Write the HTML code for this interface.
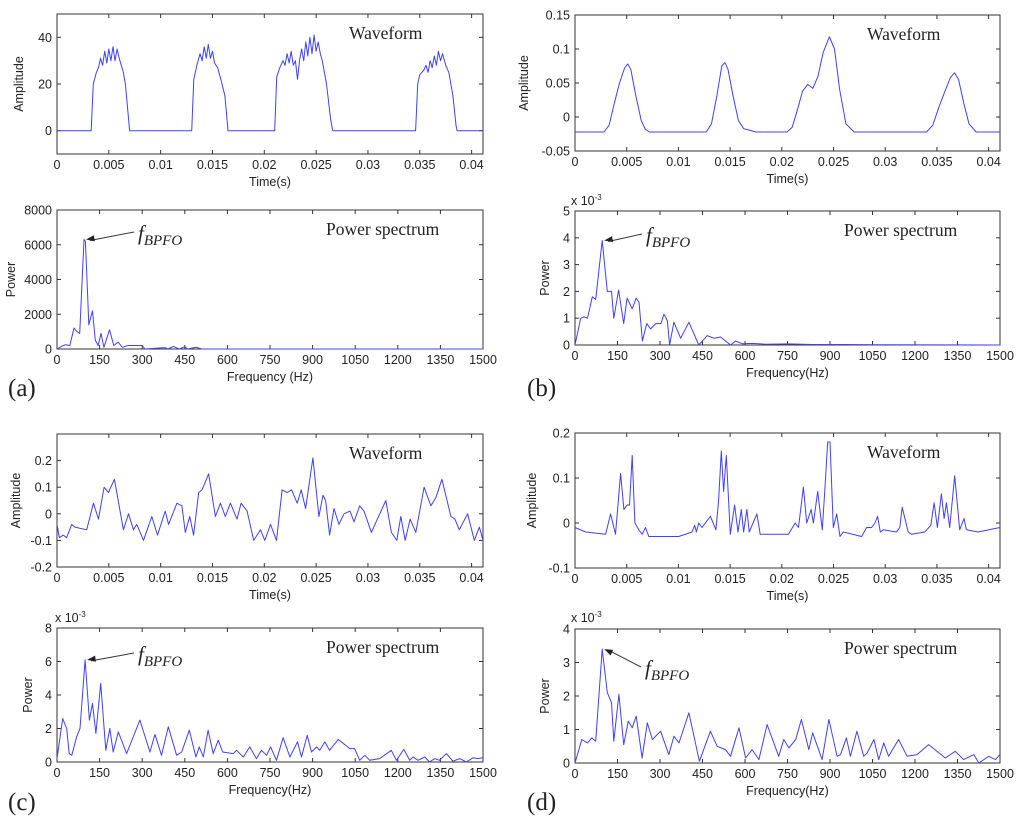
<!DOCTYPE html>
<html><head><meta charset="utf-8"><style>
body{margin:0;background:#fff;width:1024px;height:827px;overflow:hidden}
svg{display:block}
.tk{font-family:"Liberation Sans",Arial,sans-serif;font-size:12.5px;fill:#222}
.ser{font-family:"Liberation Serif","Times New Roman",serif;fill:#222}
</style></head><body>
<svg id="fig" width="1024" height="827" viewBox="0 0 1024 827" xmlns="http://www.w3.org/2000/svg"></svg>
<script>
// ---- data (time in ms, frequency in Hz) ----
const waveTicks=[0,5,10,15,20,25,30,35,40];
const waveTickLabels=["0","0.005","0.01","0.015","0.02","0.025","0.03","0.035","0.04"];
const freqTicks=[0,150,300,450,600,750,900,1050,1200,1350,1500];
const freqTickLabels=["0","150","300","450","600","750","900","1050","1200","1350","1500"];

const aWaveT=[0,3.3,3.4,3.5,3.8,4,4.2,4.4,4.6,4.8,5,5.2,5.4,5.6,5.8,6,6.2,6.4,6.6,6.8,7,13,13.2,13.5,13.8,14,14.2,14.4,14.6,14.8,15,15.2,15.5,15.8,16.2,16.4,16.5,21,21.2,21.5,21.8,22,22.2,22.4,22.6,22.8,23,23.2,23.4,23.6,23.8,24,24.2,24.4,24.6,24.8,25,25.2,25.4,25.6,26,26.4,26.6,34.6,34.8,35,35.4,35.6,35.8,36,36.2,36.4,36.6,36.8,37,37.2,37.5,37.8,38.2,38.5,38.6,41.1];
const aWaveV=[0,0,10,20,25,27,31,28,34,29,35,30,36,30,35,31,28,25,20,10,0,0,22,28,33,30,36,31,37,31,34,29,27,22,15,5,0,0,23,27,30,28,33,29,34,28,30,22,30,35,30,38,32,40,33,41,34,38,33,30,20,5,0,0,20,24,26,28,25,30,27,32,28,34,30,33,28,25,15,2,0,0];
const aWaveYTicks=[0,20,40];
const aWaveYLabels=["0","20","40"];

const aSpecF=[0,15,30,45,60,70,80,95,100,108,112,125,135,145,155,165,185,200,215,230,250,300,310,380,390,410,430,450,460,490,510,1500];
const aSpecV=[0,150,250,200,1200,1000,900,6300,6200,3000,1400,2200,500,200,900,100,1100,200,400,100,200,200,0,80,0,150,0,130,0,100,0,0];
const aSpecYTicks=[0,2000,4000,6000,8000];
const aSpecYLabels=["0","2000","4000","6000","8000"];

const bWaveT=[0,2.8,3.3,3.8,4.3,4.8,5.1,5.4,5.9,6.4,6.8,7.2,12.7,13.2,13.7,14.2,14.5,14.8,15.3,15.8,16.3,17.5,20.5,21.0,21.5,22.0,22.5,23.0,23.5,24.0,24.6,25.1,25.6,26.2,27.0,34.0,34.6,35.2,35.7,36.3,36.7,37.1,37.6,38.1,38.8,41.1];
const bWaveV=[-0.022,-0.022,-0.012,0.02,0.05,0.072,0.078,0.07,0.03,-0.005,-0.018,-0.022,-0.022,-0.01,0.03,0.075,0.08,0.07,0.03,-0.005,-0.017,-0.022,-0.022,-0.015,0.01,0.038,0.048,0.042,0.06,0.095,0.118,0.1,0.04,-0.01,-0.022,-0.022,-0.012,0.015,0.035,0.058,0.065,0.055,0.02,-0.01,-0.022,-0.022];
const bWaveYTicks=[-0.05,0,0.05,0.1,0.15];
const bWaveYLabels=["-0.05","0","0.05","0.1","0.15"];

const bSpecF=[0,20,32,44,61,73,96,114,129,137,154,172,184,202,216,226,238,253,267,285,303,314,326,334,349,373,402,437,467,491,514,549,567,590,625,672,754,836,954,1072,1500];
const bSpecV=[0,1.0,1.05,1.0,1.8,1.7,3.9,2.0,2.0,1.0,2.05,0.8,1.75,1.35,1.75,1.6,0.15,0.8,0.6,0.8,0.8,1.15,0.9,0.0,0.85,0.25,0.85,0.0,0.35,0.25,0.3,0.0,0.15,0.05,0.06,0.03,0.04,0.02,0.02,0.01,0];
const bSpecYTicks=[0,1,2,3,4,5];
const bSpecYLabels=["0","1","2","3","4","5"];

const cWaveT=[0,0.23,0.61,0.93,1.42,1.74,2.87,3.51,4.0,4.54,4.96,5.54,6.41,6.9,7.38,7.7,8.35,9.15,9.7,10.44,10.77,11.57,12.05,12.38,12.8,13.18,13.67,13.99,14.63,15.28,15.76,16.24,16.73,17.37,17.76,18.34,18.98,19.31,19.63,20.05,20.6,21.18,21.72,22.21,22.63,23.17,23.56,23.98,24.69,25.27,25.66,25.91,26.3,26.72,27.2,27.69,28.27,28.65,29.2,29.62,30.33,30.91,31.72,32.26,32.78,33.17,33.59,34.07,34.62,35.42,36.07,36.55,37.13,38.0,38.39,38.81,39.61,40.26,40.75,41.1];
const cWaveV=[-0.04,-0.09,-0.08,-0.09,-0.04,-0.05,-0.06,0.04,-0.02,0.1,0.08,0.13,-0.06,0,-0.06,-0.04,-0.1,-0.01,-0.08,0.01,-0.04,0.04,0.03,-0.07,-0.01,-0.08,0.08,0.09,0.15,-0.01,0.04,-0.01,0.04,-0.02,0.04,0.01,-0.1,-0.08,-0.06,-0.1,-0.04,-0.1,0.09,0.08,0.09,0.04,0.09,0.02,0.21,-0.01,0.07,0.05,-0.08,0.02,-0.04,0,0.01,-0.03,0.03,0.01,-0.07,-0.02,0.05,-0.07,-0.1,-0.01,-0.1,-0.02,-0.07,0.1,0.03,0.06,0.13,-0.01,-0.02,-0.06,0.0,-0.1,-0.05,-0.1];
const cWaveYTicks=[-0.2,-0.1,0,0.1,0.2];
const cWaveYLabels=["-0.2","-0.1","0","0.1","0.2"];

const cSpecF=[0,20,34,43,52,69,81,99,114,125,137,154,172,186,198,216,245,292,327,345,368,392,421,439,466,489,501,515,532,550,568,583,620,632,656,679,702,720,738,752,773,796,820,847,861,881,896,914,925,943,960,990,1031,1048,1066,1084,1101,1136,1177,1195,1221,1242,1254,1271,1295,1312,1330,1347,1371,1394,1418,1441,1465,1482,1500];
const cSpecV=[0.2,2.6,2.0,0.5,0.4,1.5,2.0,6.1,2.5,3.5,1.7,4.7,0.7,2.0,0.6,1.8,0.5,2.5,0.6,1.65,0.4,2.1,0.4,0.6,1.9,0.3,0.9,0.3,1.9,0.5,1.3,0.6,0.5,0.7,0.3,0.9,0.2,0.7,0.4,0.9,0.1,1.45,0.3,1.2,0.3,1.6,0.6,0.9,0.7,1.2,0.7,1.35,0.8,0.8,0.1,0.4,0.1,0.2,0.7,0.1,0.75,0.1,0.3,0.1,0.3,0.0,0.2,0.1,0.5,0.05,0.2,0.0,0.25,0.2,0.25];
const cSpecYTicks=[0,2,4,6,8];
const cSpecYLabels=["0","2","4","6","8"];

const dWaveT=[0,1.03,2.96,3.44,3.92,4.41,4.73,5.05,5.27,5.53,5.79,6.17,6.5,6.82,7.14,10.03,11.32,11.58,11.74,11.96,12.28,13.09,13.63,13.89,14.15,14.37,14.63,15.02,15.43,15.76,16.08,16.3,16.62,16.85,17.59,17.91,20.64,21.29,21.61,22.09,22.41,22.83,23.05,23.47,23.92,24.18,24.44,24.66,24.98,25.31,25.63,25.95,27.72,28.2,28.68,29.0,29.26,29.52,29.81,31.09,31.41,31.64,31.9,32.22,32.54,33.83,34.41,34.73,35.05,35.43,35.69,35.92,36.24,36.72,37.2,37.62,37.85,38.97,41.1];
const dWaveV=[-0.01,-0.02,-0.025,0.02,-0.025,0.11,0.03,0.04,0.04,0.15,0.0,-0.015,-0.025,-0.01,-0.03,-0.03,-0.02,-0.005,-0.02,0,-0.01,0.015,-0.015,0.05,0.16,0.07,0.15,-0.025,0.04,-0.02,0.03,-0.02,0.03,-0.02,0.02,-0.025,-0.025,0.0,-0.01,0.08,0.0,0.03,0.0,0.07,-0.015,0.08,0.18,0.18,-0.01,0.02,-0.03,-0.02,-0.03,-0.01,-0.01,0.0,0.015,-0.02,-0.015,-0.02,-0.01,0.035,0.01,-0.02,-0.025,-0.02,-0.005,0.045,-0.01,0.065,0.01,0.045,-0.01,0.105,-0.015,0.01,-0.015,-0.02,-0.01];
const dWaveYTicks=[-0.1,0,0.1,0.2];
const dWaveYLabels=["-0.1","0","0.1","0.2"];

const dSpecF=[0,24,44,59,73,96,114,129,137,155,172,188,202,216,237,255,273,302,331,349,367,402,439,478,502,531,549,579,602,625,649,678,719,737,755,779,799,825,839,872,896,925,937,958,972,995,1019,1031,1055,1072,1090,1107,1142,1172,1207,1248,1307,1342,1372,1408,1425,1460,1484,1500];
const dSpecV=[0,0.7,0.6,0.75,0.65,3.4,2.1,1.8,0.65,2.05,0.55,1.25,1.05,1.4,0.15,1.2,0.7,0.95,0.25,0.8,0.6,1.5,0.05,0.95,0.5,0.4,0.2,1.05,0.15,0.4,0.1,1.15,0.2,0.7,0.45,0.7,1.3,0.4,0.9,0.1,1.3,0.2,0.25,0.75,0.2,0.95,0.2,0.3,0.7,0.1,0.6,0.2,0.7,0.2,0.25,0.55,0.15,0.35,0.1,0.25,0.0,0.2,0.1,0.25];
const dSpecYTicks=[0,1,2,3,4];
const dSpecYLabels=["0","1","2","3","4"];

// ---- drawing ----
const NS="http://www.w3.org/2000/svg";
const fig=document.getElementById('fig');
function mk(tag,attrs,parent){const e=document.createElementNS(NS,tag);for(const k in attrs)e.setAttribute(k,attrs[k]);(parent||fig).appendChild(e);return e;}

function panel(id,L,R,T,B,xmin,xmax,ymin,ymax,xs,ys,xt,xtl,yt,ytl,xlabel,kind,yoff){
  const g=mk('g',{});
  
  
  const X=v=>L+(v-xmin)/(xmax-xmin)*(R-L);
  const Y=v=>B-(v-ymin)/(ymax-ymin)*(B-T);
  const box=mk('rect',{x:L,y:T,width:R-L,height:B-T,fill:'none',stroke:'#333','stroke-width':1},g);
  
  
  xt.forEach((v,i)=>{
    const x=X(v);
    mk('line',{x1:x,y1:B,x2:x,y2:B-4,stroke:'#333'},g);
    mk('line',{x1:x,y1:T,x2:x,y2:T+4,stroke:'#333'},g);
    const t=mk('text',{x:x,y:B+15,'text-anchor':'middle',class:'tk'},g);
    t.textContent=xtl[i];
    
    
  });
  yt.forEach((v,i)=>{
    const y=Y(v);
    mk('line',{x1:L,y1:y,x2:L+4,y2:y,stroke:'#333'},g);
    mk('line',{x1:R,y1:y,x2:R-4,y2:y,stroke:'#333'},g);
    const t=mk('text',{x:L-5,y:y+4.5,'text-anchor':'end',class:'tk'},g);
    t.textContent=ytl[i];
    
    
  });
  const pts=xs.map((v,i)=>X(v).toFixed(1)+','+Y(ys[i]).toFixed(1)).join(' ');
  const line=mk('polyline',{points:pts,fill:'none',stroke:'#4040ff','stroke-width':1,'stroke-linejoin':'round'},g);
  
  
  const xl=mk('text',{x:(L+R)/2,y:B+32,'text-anchor':'middle',class:'tk'},g);
  xl.textContent=xlabel;
  
  
  const yl=mk('text',{x:0,y:0,'text-anchor':'middle',class:'tk',transform:'translate('+(L-yoff)+','+((T+B)/2)+') rotate(-90)'},g);
  yl.textContent=kind==='w'?'Amplitude':'Power';
  
  
  const ti=mk('text',{x:L+(kind==='w'?292:269),y:T+25,class:'ser','font-size':'17.5'},g);
  ti.textContent=kind==='w'?'Waveform':'Power spectrum';
  
  
  return {X,Y,g};
}

function bpfo(p,id,fx,fy,tx,ty){
  mk('line',{x1:tx-4,y1:ty-8,x2:fx+6,y2:fy+1,stroke:'#333','stroke-width':1},p.g);
  const ang=Math.atan2(ty-8-fy,tx-4-fx);
  const ax=fx+2,ay=fy;
  const a1=[ax+9*Math.cos(ang+0.35),ay+9*Math.sin(ang+0.35)],a2=[ax+9*Math.cos(ang-0.35),ay+9*Math.sin(ang-0.35)];
  mk('polygon',{points:ax+','+ay+' '+a1.join(',')+' '+a2.join(','),fill:'#222'},p.g);
  const t=mk('text',{x:tx,y:ty,class:'ser','font-size':'21','font-style':'italic'},p.g);
  t.textContent='f';
  const s=mk('tspan',{dy:'5','font-size':'15'},t);
  s.textContent='BPFO';
  
  
}
function sci(id,x,y){
  const t=mk('text',{x:x,y:y,class:'tk','font-size':'11'});
  t.textContent='x 10';
  const s=mk('tspan',{dy:'-5','font-size':'8'},t);s.textContent='-3';
  
  
}
function plabel(txt,x,y){
  const t=mk('text',{x:x,y:y,class:'ser','font-size':'25'});
  t.textContent=txt;
  
  
}

// (a)
panel('a-wave',57,483,14,154,0,41.1,-10,50,aWaveT,aWaveV,waveTicks,waveTickLabels,aWaveYTicks,aWaveYLabels,'Time(s)','w',34);
let pa=panel('a-spec',57,483,210,349,0,1500,0,8000,aSpecF,aSpecV,freqTicks,freqTickLabels,aSpecYTicks,aSpecYLabels,'Frequency (Hz)','s',42);
bpfo(pa,'a-spec',pa.X(95),pa.Y(6300),138,240);
plabel('(a)',8,396);
// (b)
panel('b-wave',575,1000,15,151,0,41.1,-0.05,0.15,bWaveT,bWaveV,waveTicks,waveTickLabels,bWaveYTicks,bWaveYLabels,'Time(s)','w',47);
let pb=panel('b-spec',575,1000,211,345,0,1500,0,5,bSpecF,bSpecV,freqTicks,freqTickLabels,bSpecYTicks,bSpecYLabels,'Frequency(Hz)','s',26);
bpfo(pb,'b-spec',pb.X(96),pb.Y(3.9),646,242);
sci('b-spec',571,205);
plabel('(b)',527,396);
// (c)
panel('c-wave',57,483,434,567,0,41.1,-0.2,0.3,cWaveT,cWaveV,waveTicks,waveTickLabels,cWaveYTicks,cWaveYLabels,'Time(s)','w',37);
let pc=panel('c-spec',57,483,628,762,0,1500,0,8,cSpecF,cSpecV,freqTicks,freqTickLabels,cSpecYTicks,cSpecYLabels,'Frequency(Hz)','s',25);
bpfo(pc,'c-spec',pc.X(99),pc.Y(6.1),138,661);
sci('c-spec',55,622);
plabel('(c)',8,810);
// (d)
panel('d-wave',575,1000,433,568,0,41.1,-0.1,0.2,dWaveT,dWaveV,waveTicks,waveTickLabels,dWaveYTicks,dWaveYLabels,'Time(s)','w',39);
let pd=panel('d-spec',575,1000,629,763,0,1500,0,4,dSpecF,dSpecV,freqTicks,freqTickLabels,dSpecYTicks,dSpecYLabels,'Frequency(Hz)','s',26);
bpfo(pd,'d-spec',pd.X(96),pd.Y(3.4),645,675);
sci('d-spec',571,622);
plabel('(d)',527,810);
</script>
</body></html>
